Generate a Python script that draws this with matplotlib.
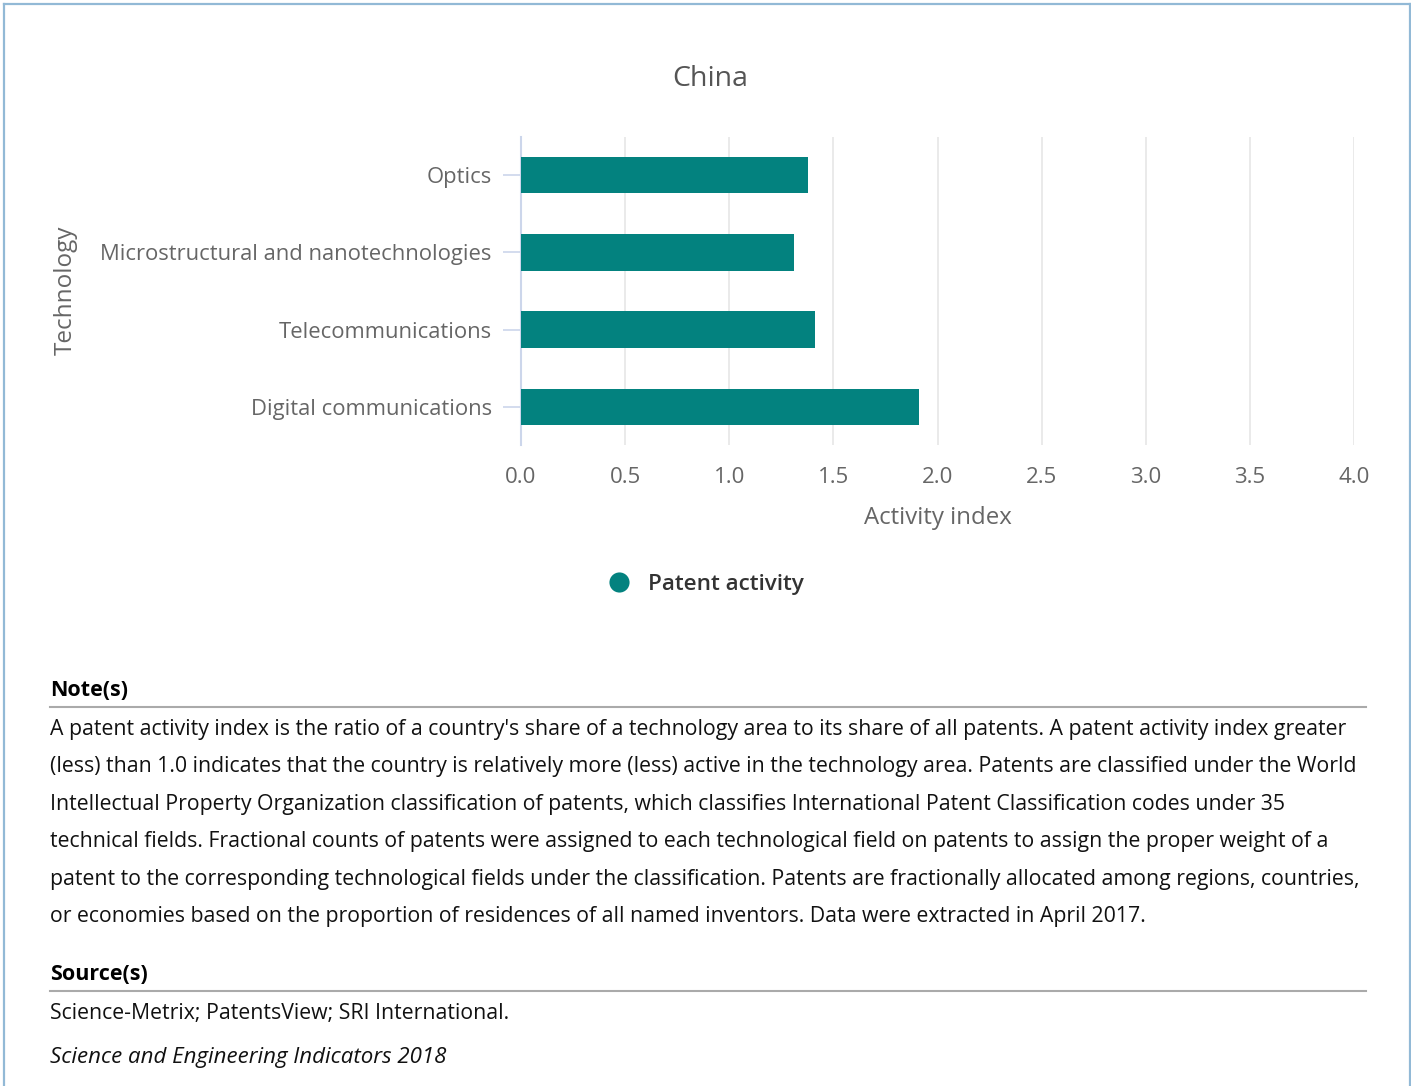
import matplotlib
matplotlib.use("Agg")
import matplotlib.pyplot as plt
from matplotlib.lines import Line2D

plt.rcParams['font.family'] = ['Open Sans', 'DejaVu Sans']

categories = ["Optics", "Microstructural and nanotechnologies", "Telecommunications", "Digital communications"]
values = [1.38, 1.31, 1.41, 1.91]
xticks = [0.0, 0.5, 1.0, 1.5, 2.0, 2.5, 3.0, 3.5, 4.0]
xtick_labels = ["0.0", "0.5", "1.0", "1.5", "2.0", "2.5", "3.0", "3.5", "4.0"]
title = "China"
series_name = "Patent activity"
bar_color = "#03827f"

note_lines = [
    "A patent activity index is the ratio of a country's share of a technology area to its share of all patents. A patent activity index greater",
    "(less) than 1.0 indicates that the country is relatively more (less) active in the technology area. Patents are classified under the World",
    "Intellectual Property Organization classification of patents, which classifies International Patent Classification codes under 35",
    "technical fields. Fractional counts of patents were assigned to each technological field on patents to assign the proper weight of a",
    "patent to the corresponding technological fields under the classification. Patents are fractionally allocated among regions, countries,",
    "or economies based on the proportion of residences of all named inventors. Data were extracted in April 2017.",
]
source_text = "Science-Metrix; PatentsView; SRI International."
publication = "Science and Engineering Indicators 2018"

W, H = 1411, 1086
fig = plt.figure(figsize=(W / 100, H / 100), dpi=100)

def fx(x):
    return x / W

def fy(y):
    return 1 - y / H

ax = fig.add_axes([fx(521), fy(445.5), fx(1354) - fx(521), fy(136.5) - fy(445.5)])
ypos = list(range(len(categories)))
ax.barh(ypos, values, height=0.47, color=bar_color, zorder=3)
ax.set_ylim(len(categories) - 0.5, -0.5)
ax.set_xlim(0, 4.0)
ax.set_xticks(xticks)
ax.set_xticklabels(xtick_labels)
ax.set_yticks(ypos)
ax.set_yticklabels(categories)
ax.grid(axis='x', color='#e6e6e6', linewidth=1.2, zorder=0)
for s in ['top', 'right', 'bottom']:
    ax.spines[s].set_visible(False)
ax.spines['left'].set_color('#ccd6eb')
ax.spines['left'].set_linewidth(1.5)
ax.tick_params(axis='y', length=13, width=1.2, color='#ccd6eb', labelcolor='#666666', labelsize=15.8, pad=8)
ax.tick_params(axis='x', length=0, labelcolor='#666666', labelsize=16, pad=15.5)
ax.set_xlabel("Activity index", color='#666666', fontsize=17.3, labelpad=13)
ax.set_facecolor('white')

fig.text(fx(66), fy(290), "Technology", rotation=90, color='#666666', fontsize=17.5, ha='center', va='center')
fig.text(fx(710), fy(78.5), title, color='#555555', fontsize=20.5, ha='center', va='center')

# legend
fig.add_artist(Line2D([fx(619)], [fy(582)], marker='o', markersize=14.5, color=bar_color,
                      markeredgecolor='none', linestyle='none'))
fig.text(fx(648), fy(582), series_name, color='#333333', fontsize=16.2, fontweight='semibold',
         ha='left', va='center_baseline')

# notes
fs = 15.3
fig.text(fx(50), fy(691), "Note(s)", color='black', fontsize=15.5, fontweight='bold', ha='left', va='center')
fig.add_artist(Line2D([fx(50), fx(1366)], [fy(707), fy(707)], color='#aaaaaa', linewidth=1.5))
for i, line in enumerate(note_lines):
    fig.text(fx(50), fy(729.5 + i * 37.4), line, color='#111111', fontsize=fs, ha='left', va='center')
fig.text(fx(50), fy(974), "Source(s)", color='black', fontsize=15.5, fontweight='bold', ha='left', va='center')
fig.add_artist(Line2D([fx(50), fx(1366)], [fy(991), fy(991)], color='#aaaaaa', linewidth=1.5))
fig.text(fx(50), fy(1013), source_text, color='#111111', fontsize=fs, ha='left', va='center')
fig.text(fx(50), fy(1058), publication, color='#111111', fontsize=16, style='italic', ha='left', va='center')

# border
bc = '#92b9d6'
fig.add_artist(Line2D([fx(4), fx(4)], [fy(4), 0], color=bc, linewidth=1.6))
fig.add_artist(Line2D([fx(4), fx(1410)], [fy(4), fy(4)], color=bc, linewidth=1.6))
fig.add_artist(Line2D([fx(1410), fx(1410)], [fy(4), 0], color=bc, linewidth=1.6))

fig.savefig("out.png", dpi=100, facecolor='white')
